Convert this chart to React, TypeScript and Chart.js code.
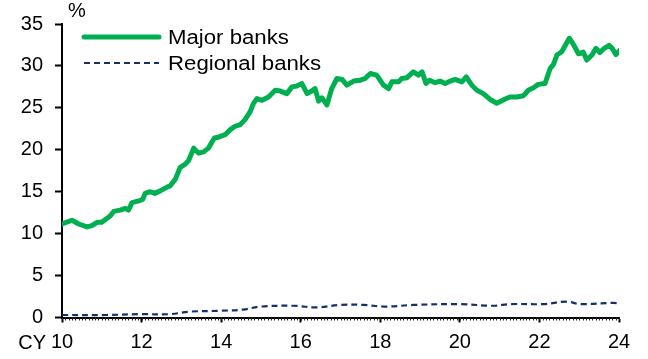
import React, { useEffect, useRef } from 'react';
import { Chart, registerables } from 'chart.js';

Chart.register(...registerables);

const xTickValues = [10, 12, 14, 16, 18, 20, 22, 24];
const yTickValues = [0, 5, 10, 15, 20, 25, 30, 35];
const xPrefix = 'CY';
const unitLabel = '%';

const majorLabel = 'Major banks';
const majorYears = [
  10.0, 10.25, 10.42, 10.63, 10.75, 10.88, 11.0, 11.21, 11.3, 11.46, 11.59, 11.67, 11.76, 11.93,
  12.03, 12.09, 12.22, 12.33, 12.47, 12.64, 12.72, 12.85, 12.97, 13.1, 13.18, 13.31, 13.43, 13.56,
  13.68, 13.83, 13.93, 14.1, 14.23, 14.35, 14.48, 14.6, 14.73, 14.81, 14.9, 15.03, 15.19, 15.36,
  15.49, 15.65, 15.78, 15.9, 16.03, 16.16, 16.28, 16.36, 16.45, 16.53, 16.66, 16.78, 16.91, 17.04,
  17.16, 17.33, 17.5, 17.62, 17.75, 17.91, 18.08, 18.21, 18.29, 18.46, 18.54, 18.67, 18.83, 18.96,
  19.05, 19.15, 19.24, 19.38, 19.5, 19.63, 19.76, 19.88, 20.05, 20.16, 20.3, 20.43, 20.59, 20.76,
  20.93, 21.14, 21.26, 21.43, 21.6, 21.72, 21.85, 21.97, 22.14, 22.27, 22.35, 22.44, 22.56, 22.75,
  22.85, 22.98, 23.1, 23.19, 23.32, 23.42, 23.52, 23.63, 23.75, 23.83, 23.92, 24.05,
];
const majorValues = [
  11.15, 11.6, 11.15, 10.8, 10.95, 11.35, 11.35, 12.1, 12.65, 12.8, 13.0, 12.8, 13.7, 13.9,
  14.1, 14.8, 15.0, 14.8, 15.1, 15.55, 15.7, 16.5, 17.9, 18.3, 18.7, 20.2, 19.6, 19.75,
  20.2, 21.4, 21.5, 21.8, 22.4, 22.8, 23.0, 23.6, 24.55, 25.5, 26.1, 25.9, 26.3, 27.1,
  27.0, 26.7, 27.5, 27.6, 27.9, 26.7, 27.0, 27.3, 25.8, 26.2, 25.35, 27.3, 28.5, 28.4,
  27.7, 28.2, 28.3, 28.5, 29.1, 28.9, 27.7, 27.3, 28.1, 28.1, 28.5, 28.6, 29.3, 28.9,
  29.3, 27.9, 28.3, 28.0, 28.2, 27.9, 28.2, 28.4, 28.1, 28.7, 27.7, 27.1, 26.7, 26.0,
  25.55, 26.05, 26.3, 26.3, 26.45, 27.1, 27.4, 27.8, 27.9, 29.7, 30.15, 31.3, 31.7, 33.3,
  32.6, 31.45, 31.65, 30.7, 31.3, 32.1, 31.6, 32.1, 32.45, 32.1, 31.35, 32.0,
];

const regionalLabel = 'Regional banks';
const regionalYears = [
  10.0, 11.13, 11.97, 12.72, 13.22, 13.97, 14.56, 14.98, 15.82, 16.4, 16.99, 17.58, 18.12, 18.84,
  20.0, 20.84, 21.26, 22.1, 22.69, 23.03, 23.86, 24.05,
];
const regionalValues = [
  0.3, 0.3, 0.4, 0.4, 0.7, 0.8, 0.95, 1.3, 1.4, 1.2, 1.5, 1.5, 1.3, 1.5,
  1.6, 1.4, 1.6, 1.6, 1.9, 1.6, 1.75, 1.65,
];

const GREEN = '#00B050';
const NAVY = '#14306B';
const FONT = '"Liberation Sans", Arial, sans-serif';
const FONT_SIZE = 20;

const overlayPlugin = {
  id: 'overlay',
  afterDraw(chart: any) {
    const { ctx, chartArea } = chart;
    const xs = chart.scales.x;
    ctx.save();
    // minor monthly ticks on x axis
    ctx.strokeStyle = '#222';
    ctx.lineWidth = 1;
    for (let i = 0; i <= (24 - 10) * 12; i++) {
      const px = Math.round(xs.getPixelForValue(10 + i / 12)) + 0.5;
      ctx.beginPath();
      ctx.moveTo(px, chartArea.bottom);
      ctx.lineTo(px, chartArea.bottom + 3);
      ctx.stroke();
    }
    ctx.fillStyle = '#000';
    ctx.font = `${FONT_SIZE}px ${FONT}`;
    // unit label
    ctx.textAlign = 'left';
    ctx.textBaseline = 'alphabetic';
    ctx.fillText(unitLabel, chartArea.left + 6, 17);
    // CY prefix
    ctx.textAlign = 'right';
    const x0 = xs.getPixelForValue(xTickValues[0]);
    ctx.fillText(xPrefix, x0 - 16, chartArea.bottom + 31.5);
    // legend
    const rows = chart.data.datasets;
    rows.forEach((ds: any, i: number) => {
      const y = 37 + i * 26;
      ctx.save();
      ctx.strokeStyle = ds.borderColor;
      ctx.lineWidth = ds.borderWidth;
      ctx.lineCap = ds.borderDash && ds.borderDash.length ? 'butt' : 'round';
      ctx.setLineDash(ds.borderDash || []);
      ctx.beginPath();
      ctx.moveTo(chartArea.left + 22, y);
      ctx.lineTo(chartArea.left + 97, y);
      ctx.stroke();
      ctx.restore();
      ctx.save();
      ctx.translate(chartArea.left + 106, y + 1);
      ctx.scale(1.11, 1);
      ctx.textAlign = 'left';
      ctx.textBaseline = 'middle';
      ctx.fillText(ds.label, 0, 0);
      ctx.restore();
    });
    ctx.restore();
  },
};

export default function App() {
  const ref = useRef<HTMLCanvasElement>(null);
  useEffect(() => {
    if (!ref.current) return;
    const chart = new Chart(ref.current, {
      type: 'line',
      data: {
        datasets: [
          {
            label: majorLabel,
            data: majorYears.map((x, i) => ({ x, y: majorValues[i] })),
            borderColor: GREEN,
            backgroundColor: GREEN,
            borderWidth: 5,
            pointRadius: 0,
            tension: 0,
            borderJoinStyle: 'round',
            borderCapStyle: 'round',
          },
          {
            label: regionalLabel,
            data: regionalYears.map((x, i) => ({ x, y: regionalValues[i] })),
            borderColor: NAVY,
            backgroundColor: NAVY,
            borderWidth: 2.2,
            borderDash: [6, 4],
            pointRadius: 0,
            tension: 0.35,
          },
        ],
      },
      options: {
        animation: false,
        responsive: false,
        devicePixelRatio: 1,
        layout: { padding: { left: 0, right: 29, top: 22, bottom: 0 } },
        plugins: { legend: { display: false }, tooltip: { enabled: false } },
        scales: {
          x: {
            type: 'linear',
            min: 10,
            max: 24,
            afterBuildTicks: (s: any) => {
              s.ticks = xTickValues.map((v) => ({ value: v }));
            },
            afterFit: (s: any) => {
              s.height = 41.5;
            },
            grid: { drawOnChartArea: false, drawTicks: true, tickLength: 5, tickColor: '#000', tickWidth: 2 },
            border: { display: true, color: '#000', width: 2 },
            ticks: {
              autoSkip: false,
              maxRotation: 0,
              padding: 8,
              color: '#000',
              font: { family: FONT, size: FONT_SIZE },
              callback: (v: any) => String(v),
            },
          },
          y: {
            min: 0,
            max: 35,
            afterBuildTicks: (s: any) => {
              s.ticks = yTickValues.map((v) => ({ value: v }));
            },
            afterFit: (s: any) => {
              s.width = 62;
            },
            grid: { drawOnChartArea: false, drawTicks: true, tickLength: 7, tickColor: '#000', tickWidth: 2 },
            border: { display: true, color: '#000', width: 2 },
            ticks: {
              padding: 12,
              color: '#000',
              font: { family: FONT, size: FONT_SIZE },
            },
          },
        },
      },
      plugins: [overlayPlugin],
    });
    return () => chart.destroy();
  }, []);
  return (
    <div style={{ position: 'absolute', left: 0, top: 0, width: 648, height: 359, background: '#fff' }}>
      <canvas ref={ref} width={648} height={359} style={{ display: 'block' }} />
    </div>
  );
}
